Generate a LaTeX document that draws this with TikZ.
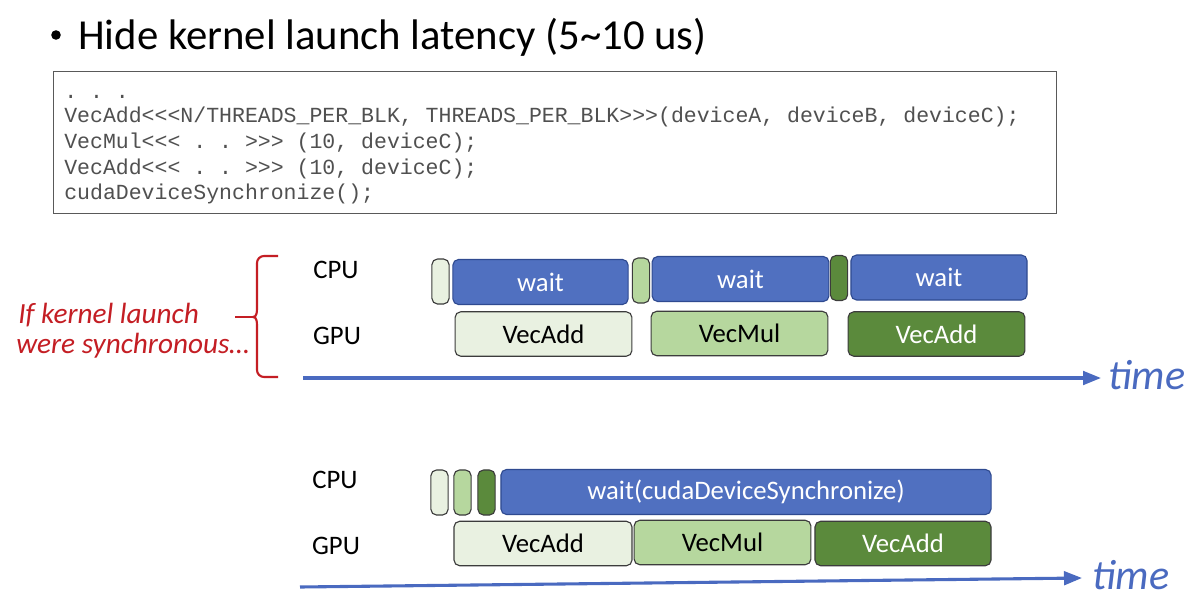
\documentclass[tikz,border=0pt]{standalone}
\usepackage{fontspec}
\setmainfont{Carlito}
\newfontfamily\codefont{Liberation Mono}
\usepackage{xcolor}
\usetikzlibrary{arrows.meta}

\definecolor{waitblue}{HTML}{5070C0}
\definecolor{waitedge}{HTML}{2F4A90}
\definecolor{gone}{HTML}{E9F1E1}
\definecolor{gtwo}{HTML}{B6D79E}
\definecolor{gthree}{HTML}{5B8A3C}
\definecolor{gedge}{HTML}{3C3C3C}
\definecolor{arrowblue}{HTML}{4A6AC0}
\definecolor{noteRed}{HTML}{C41E24}
\definecolor{codegray}{HTML}{505050}

\tikzset{
  box/.style={draw,rounded corners=4pt,line width=0.8pt,inner sep=0pt,font=\fontsize{19}{21}\selectfont},
  waitbox/.style={box,fill=waitblue,draw=waitedge,text=white,minimum height=1.125cm},
  tick/.style={box,draw=gedge,minimum width=0.43cm,minimum height=1.125cm},
  kern/.style={box,draw=gedge,minimum width=4.42cm,minimum height=1.11cm},
  lbl/.style={font=\fontsize{19}{21}\selectfont},
  codeline/.style={anchor=base west,inner sep=0pt,text=codegray,font=\codefont\fontsize{15.3}{17}\selectfont},
  timeline/.style={-{Triangle[length=4.5mm,width=3.4mm]},arrowblue,line width=2.2pt},
  timelbl/.style={anchor=west,inner sep=0pt,text=arrowblue,font=\itshape\fontsize{30}{32}\selectfont},
  note/.style={anchor=base west,inner sep=0pt,text=noteRed,font=\itshape\fontsize{20.8}{23}\selectfont}
}

\begin{document}
\begin{tikzpicture}[x=0.025cm,y=-0.025cm]
  \useasboundingbox[fill=white] (0,0) rectangle (1196,604);

  % title
  \fill (56,35) circle (4.8);
  \node[anchor=base west,inner sep=0pt,font=\fontsize{30.4}{34}\selectfont] (title) at (78,50) {Hide kernel launch latency (5\textasciitilde10 us)};

  % code
  \draw[gray!70!black,line width=0.6pt] (53,71) rectangle (1056,213);
  \node[codeline] (c0) at (64,98) {.\ .\ .};
  \node[codeline] (c1) at (64,122) {VecAdd<<<N/THREADS\_PER\_BLK, THREADS\_PER\_BLK>>>(deviceA, deviceB, deviceC);};
  \node[codeline] (c2) at (64,148) {VecMul<<< .\ .\ >>> (10, deviceC);};
  \node[codeline] (c3) at (64,174) {VecAdd<<< .\ .\ >>> (10, deviceC);};
  \node[codeline] (c4) at (64,199) {cudaDeviceSynchronize();};

  % synchronous launch
  \node[lbl] (cpuA) at (336,270) {CPU};
  \node[lbl] (gpuA) at (337,336) {GPU};
  \node[tick,fill=gone] (sA1) at (440.5,281.5) {};
  \node[waitbox,minimum width=4.38cm] (wA1) at (540.5,282) {wait};
  \node[tick,fill=gtwo] (sA2) at (641,280.5) {};
  \node[waitbox,minimum width=4.42cm] (wA2) at (740.5,279) {wait};
  \node[tick,fill=gthree] (sA3) at (839,278) {};
  \node[waitbox,minimum width=4.4cm] (wA3) at (939,277.5) {wait};
  \node[kern,fill=gone] (kA1) at (543.5,334) {VecAdd};
  \node[kern,fill=gtwo] (kA2) at (739.5,333.5) {VecMul};
  \node[kern,fill=gthree,text=white] (kA3) at (936.5,334) {VecAdd};

  \coordinate (tA0) at (303,378);
  \coordinate (tA1) at (1101,378);
  \draw[timeline] (tA0) -- (tA1);
  \node[timelbl] (timeA) at (1108,375) {time};

  % brace and note
  \draw[noteRed,line width=1.5pt,line join=round]
    (278,256) -- (264,256) to[out=180,in=90] (257,263) -- (257,308)
    to[out=-90,in=0] (253,317) to[out=0,in=90] (257,326) -- (257,370)
    to[out=-90,in=180] (264,377) -- (278,377);
  \draw[noteRed,line width=1.5pt] (235,317) -- (253,317);
  \node[note] (noteA) at (18,323) {If kernel launch};
  \node[note] (noteB) at (16,353) {were synchronous\dots};

  % asynchronous launch
  \node[lbl] (cpuB) at (335,480) {CPU};
  \node[lbl] (gpuB) at (336,546) {GPU};
  \node[tick,fill=gone] (sB1) at (439.5,492.5) {};
  \node[tick,fill=gtwo] (sB2) at (462.5,492.5) {};
  \node[tick,fill=gthree] (sB3) at (486.5,492.5) {};
  \node[waitbox,minimum width=12.25cm] (wB) at (746,492) {wait(cudaDeviceSynchronize)};
  \node[kern,minimum width=4.45cm,fill=gone] (kB1) at (543,543.5) {VecAdd};
  \node[kern,fill=gtwo] (kB2) at (722.5,542.5) {VecMul};
  \node[kern,minimum width=4.4cm,fill=gthree,text=white] (kB3) at (903,543.5) {VecAdd};

  \coordinate (tB0) at (300,587);
  \coordinate (tB1) at (1082,578);
  \draw[timeline] (tB0) -- (tB1);
  \node[timelbl] (timeB) at (1092,575) {time};
\end{tikzpicture}
\end{document}
